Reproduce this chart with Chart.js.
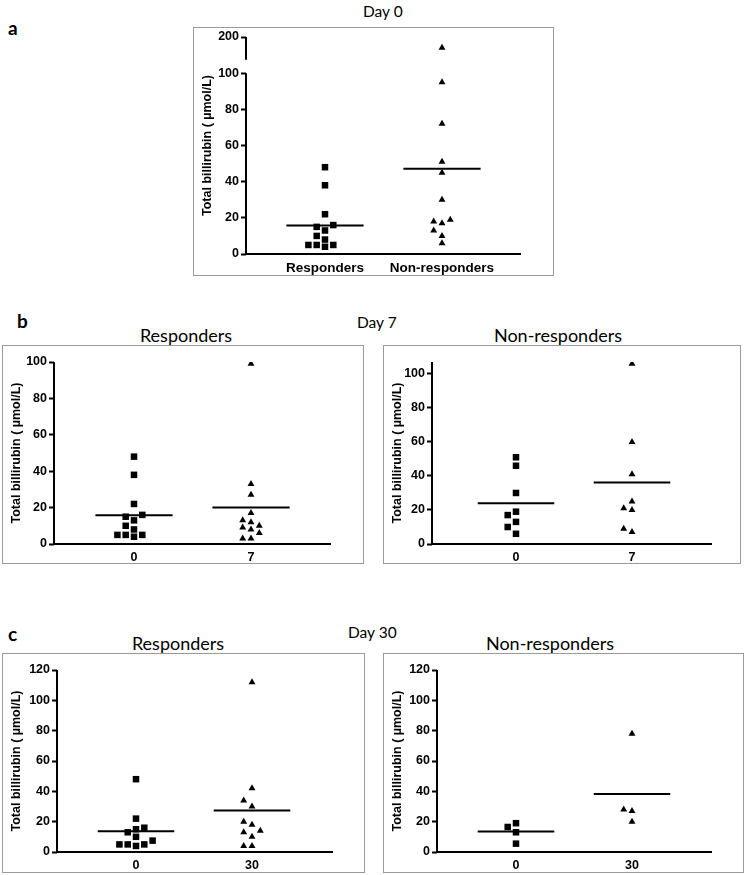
<!DOCTYPE html>
<html>
<head>
<title>Total billirubin</title>
<script src="https://cdn.jsdelivr.net/npm/chart.js"></script>
<style>
body { margin:0; background:#fff; width:747px; height:875px; position:relative; overflow:hidden; }
.box { position:absolute; border:1px solid #9a9a9a; box-sizing:border-box; }
canvas { position:absolute; }
.txt { position:absolute; white-space:nowrap; color:#000; transform:translate(-50%,-50%); font-family: Lato, "Open Sans", sans-serif; }
.letter { font-weight:bold; font-size:19px; transform:translate(0,-50%); }
.day { font-size:15.5px; transform:translate(0,-50%); }
.head { font-size:18px; }
</style>
</head>
<body>

<div class="txt letter" style="left:8px;top:27px">a</div>
<div class="txt day" style="left:363px;top:11px">Day 0</div>
<div class="txt letter" style="left:17px;top:320px">b</div>
<div class="txt day" style="left:357px;top:322px">Day 7</div>
<div class="txt head" style="left:186px;top:335px">Responders</div>
<div class="txt head" style="left:558px;top:335px">Non-responders</div>
<div class="txt letter" style="left:8px;top:633px">c</div>
<div class="txt day" style="left:348px;top:632px">Day 30</div>
<div class="txt head" style="left:178px;top:643px">Responders</div>
<div class="txt head" style="left:550px;top:643px">Non-responders</div>

<script>
// values (umol/L)
const day0Groups = ['Responders', 'Non-responders'];
const day0Resp = [48, 38, 22, 16, 15, 13, 10, 8, 5, 5, 5, 4];
const day0NonResp = [189, 95, 72, 51, 45, 30, 19, 18, 17, 13, 10, 6];

const day7Groups = ['0', '7'];
const day7RespBase = [48, 38, 22, 16, 15, 13, 10, 8, 5, 5, 5, 4];
const day7RespD7 = [99, 33, 27, 17, 13, 12, 10, 9, 8, 6, 3, 3];
const day7NonBase = [51, 46, 30, 19, 17, 13, 10, 6];
const day7NonD7 = [106, 60, 41, 25, 21, 20, 9, 7];

const day30Groups = ['0', '30'];
const day30RespBase = [48, 22, 16, 15, 13, 10, 7.5, 5, 5, 5, 4];
const day30RespD30 = [112, 42, 34, 30, 20, 18, 14, 13, 10, 4, 4];
const day30NonBase = [19, 16.5, 13, 5.5];
const day30NonD30 = [78, 28, 27, 20];

// y tick labels
const ticksDay0 = [0, 20, 40, 60, 80, 100, 200];
const ticks100 = [0, 20, 40, 60, 80, 100];
const ticks120 = [0, 20, 40, 60, 80, 100, 120];

// day 0 axis is broken above 100: the top piece holds 178..200
function brk(v) { return v <= 100 ? v : 120 - (200 - v) * 12 / 22; }
function same(v) { return v; }

function mean(a) { return a.reduce((s, v) => s + v, 0) / a.length; }

const tickFont = { family: "'Liberation Sans', Arial, sans-serif", size: 12.5, weight: 'bold' };
const titleFont = { family: "'Liberation Sans', Arial, sans-serif", size: 12.5, weight: 'bold' };

// page layout of each framed panel
const panels = [
  { box: [193, 27, 361, 249], area: [246, 37, 520, 254], cats: [325, 442], names: day0Groups,
    vals: [day0Resp, day0NonResp], ticks: ticksDay0, ymax: 120, tf: brk, segs: [[0, 100], [108, 120]], catFont: 13.5 },
  { box: [2, 345, 362, 219], area: [54, 362, 330, 544], cats: [134, 251], names: day7Groups,
    vals: [day7RespBase, day7RespD7], ticks: ticks100, ymax: 100, tf: same },
  { box: [383, 345, 358, 219], area: [432, 362, 711, 544], cats: [516, 632], names: day7Groups,
    vals: [day7NonBase, day7NonD7], ticks: ticks100, ymax: 107, tf: same },
  { box: [2, 653, 363, 220], area: [57, 670, 332, 852], cats: [136, 252], names: day30Groups,
    vals: [day30RespBase, day30RespD30], ticks: ticks120, ymax: 120, tf: same },
  { box: [383, 653, 361, 220], area: [437, 670, 711, 852], cats: [516, 632], names: day30Groups,
    vals: [day30NonBase, day30NonD30], ticks: ticks120, ymax: 120, tf: same }
];

// draws the y axis line, possibly in pieces
const axisPlugin = {
  id: 'axisline',
  afterDraw(chart) {
    const segs = chart.options.plugins.axisline.segs;
    const y = chart.scales.y, ctx = chart.ctx, x0 = chart.chartArea.left;
    ctx.save();
    ctx.strokeStyle = '#000';
    ctx.lineWidth = 2;
    segs.forEach(s => {
      ctx.beginPath();
      ctx.moveTo(x0, y.getPixelForValue(s[0]) + 1);
      ctx.lineTo(x0, y.getPixelForValue(s[1]));
      ctx.stroke();
    });
    ctx.restore();
  }
};

function makePanel(p) {
  const [bx, by, bw, bh] = p.box;
  const [al, at, ar, ab] = p.area;
  const frame = document.createElement('div');
  frame.className = 'box';
  frame.style.cssText = `left:${bx}px;top:${by}px;width:${bw}px;height:${bh}px`;
  document.body.appendChild(frame);
  const cv = document.createElement('canvas');
  cv.width = bw; cv.height = bh;
  cv.style.left = bx + 'px'; cv.style.top = by + 'px';
  document.body.appendChild(cv);

  const unitPx = p.cats[1] - p.cats[0];
  const xmin = 1 - (p.cats[0] - al) / unitPx;
  const xmax = xmin + (ar - al) / unitPx;
  const tickVals = p.ticks.map(p.tf);

  const datasets = p.vals.map((vals, gi) => ({
    data: vals.map(v => ({ x: gi + 1, y: p.tf(v) })),
    pointStyle: gi === 0 ? 'rect' : 'triangle',
    pointRadius: gi === 0 ? 4.6 : 4,
    backgroundColor: '#000',
    borderWidth: 0
  }));
  // mean lines
  p.vals.forEach((vals, gi) => {
    const m = p.tf(mean(vals));
    datasets.push({
      type: 'line', showLine: true,
      data: [{ x: gi + 1 - 0.33, y: m }, { x: gi + 1 + 0.33, y: m }],
      borderColor: '#000', borderWidth: 2, pointRadius: 0
    });
  });

  const chart = new Chart(cv.getContext('2d'), {
    type: 'scatter',
    data: { datasets: datasets },
    plugins: [axisPlugin],
    options: {
      responsive: false, animation: false,
      layout: { padding: { left: 0, top: at - by, right: bx + bw - ar, bottom: 0 } },
      plugins: { legend: { display: false }, tooltip: { enabled: false }, axisline: { segs: p.segs || [[0, p.ymax]] } },
      scales: {
        x: {
          type: 'linear', min: xmin, max: xmax,
          afterFit: s => { s.height = by + bh - ab; },
          afterBuildTicks: s => { s.ticks = [{ value: 1 }, { value: 2 }]; },
          grid: { display: false, drawTicks: false },
          border: { display: true, color: '#000', width: 2 },
          ticks: { autoSkip: false, maxRotation: 0, padding: 6, color: '#000',
            font: Object.assign({}, tickFont, { size: p.catFont || 12.5 }),
            callback: v => p.names[v - 1] }
        },
        y: {
          type: 'linear', min: 0, max: p.ymax,
          afterFit: s => { s.width = al - bx; },
          afterBuildTicks: s => { s.ticks = tickVals.map(v => ({ value: v })); },
          grid: { drawOnChartArea: false, drawTicks: true, tickLength: 5, tickColor: '#000', tickWidth: 2 },
          border: { display: false },
          ticks: { padding: 2, color: '#000', font: tickFont,
            callback: v => String(p.ticks[tickVals.indexOf(v)]) },
          title: { display: true, text: 'Total billirubin ( \u00b5mol/L)', color: '#000', font: titleFont,
            padding: { top: 7, bottom: 0 } }
        }
      }
    }
  });

  // spread the points of each group sideways so they don't overlap
  const xs = chart.scales.x, ys = chart.scales.y;
  const pxUnit = xs.getPixelForValue(2) - xs.getPixelForValue(1);
  p.vals.forEach((vals, gi) => {
    const order = vals.map((v, i) => i).sort((a, b) => vals[a] - vals[b]);
    const placed = [];
    order.forEach(i => {
      const py = ys.getPixelForValue(p.tf(vals[i]));
      for (const s of [0, -1, 1, -2, 2, -3, 3, -4, 4]) {
        if (!placed.some(q => q.s === s && Math.abs(q.py - py) < 7)) {
          placed.push({ s: s, py: py });
          chart.data.datasets[gi].data[i].x = gi + 1 + s * 8.3 / pxUnit;
          break;
        }
      }
    });
  });
  chart.update('none');
}

panels.forEach(makePanel);
</script>
</body>
</html>
